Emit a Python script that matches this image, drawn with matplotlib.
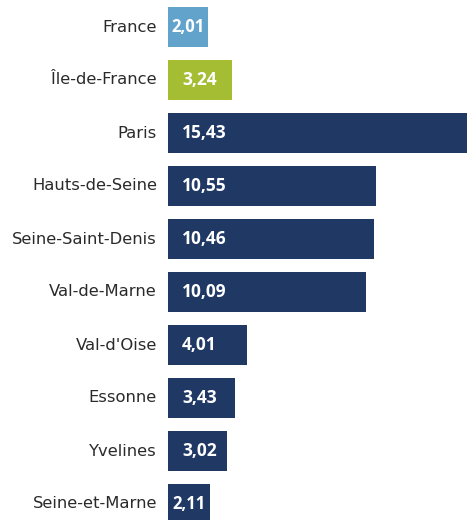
import matplotlib.pyplot as plt

categories = ['France', 'Île-de-France', 'Paris', 'Hauts-de-Seine', 'Seine-Saint-Denis',
              'Val-de-Marne', "Val-d'Oise", 'Essonne', 'Yvelines', 'Seine-et-Marne']
values = [2.01, 3.24, 15.43, 10.55, 10.46, 10.09, 4.01, 3.43, 3.02, 2.11]
colors = ['#62a3cc', '#a5bd33'] + ['#1f3864'] * 8

fig = plt.figure(figsize=(4.67, 5.2), dpi=100)
ax = fig.add_axes([168 / 467, 0, 1 - 168 / 467, 1])

y = list(range(len(categories)))
ax.barh(y, values, height=0.75, color=colors)
ax.set_xlim(0, 15.2)
ax.set_ylim((520 - 27) / 53, -27 / 53)

for yi, v, name in zip(y, values, categories):
    label = f'{v:.2f}'.replace('.', ',')
    if v < 2.5:
        ax.text(v / 2, yi, label, ha='center', va='center', color='white',
                fontsize=12, fontweight='bold', family='Open Sans')
    else:
        ax.annotate(label, (0, yi), xytext=(10, 0), textcoords='offset points',
                    ha='left', va='center', color='white',
                    fontsize=12.5, fontweight='bold', family='Open Sans')
    ax.annotate(name, (0, yi), xytext=(-8, 0), textcoords='offset points',
                ha='right', va='center', color='#2a2a2a', fontsize=11.8,
                family='DejaVu Sans', annotation_clip=False)

ax.axis('off')
fig.savefig('out.png', dpi=100)
